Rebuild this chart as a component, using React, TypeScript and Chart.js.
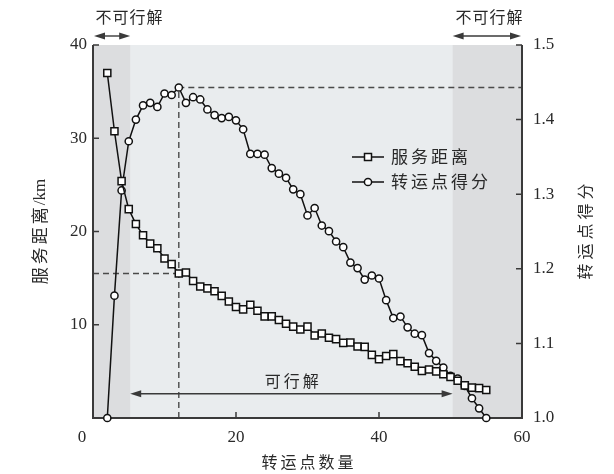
import React, { useEffect, useRef } from "react";
import { Chart, registerables } from "chart.js";

Chart.register(...registerables);

const transferCounts = [
  2, 3, 4, 5, 6, 7, 8, 9, 10, 11, 12, 13, 14, 15, 16, 17, 18, 19, 20, 21, 22, 23, 24, 25, 26, 27, 28,
  29, 30, 31, 32, 33, 34, 35, 36, 37, 38, 39, 40, 41, 42, 43, 44, 45, 46, 47, 48, 49, 50, 51, 52, 53,
  54, 55,
];

const serviceDistance = [
  37.0, 30.75, 25.4, 22.4, 20.8, 19.6, 18.7, 18.2, 17.1, 16.5, 15.5, 15.6, 14.7, 14.1, 13.9, 13.6,
  13.1, 12.5, 11.9, 11.65, 12.15, 11.5, 10.9, 10.9, 10.5, 10.1, 9.8, 9.5, 9.8, 8.85, 9.06, 8.6, 8.46,
  8.06, 8.1, 7.67, 7.63, 6.77, 6.3, 6.65, 6.85, 6.1, 5.87, 5.5, 5.05, 5.2, 5.0, 4.7, 4.4, 4.0, 3.5,
  3.26, 3.2, 3.0,
];

const transferScore = [
  1.0, 1.164, 1.305, 1.371, 1.4, 1.419, 1.4225, 1.417, 1.435, 1.433, 1.443, 1.4225, 1.43, 1.427,
  1.4136, 1.406, 1.402, 1.4036, 1.399, 1.387, 1.354, 1.354, 1.353, 1.335, 1.3275, 1.322, 1.3065, 1.3,
  1.2715, 1.2815, 1.258, 1.2505, 1.2366, 1.229, 1.2083, 1.201, 1.1855, 1.191, 1.187, 1.158, 1.134,
  1.136, 1.1215, 1.113, 1.111, 1.087, 1.0766, 1.0676, 1.0565, 1.0528, 1.043, 1.0265, 1.013, 1.0,
];

const xTickLabels = ["0", "20", "40", "60"];
const leftTickLabels = ["10", "20", "30", "40"];
const rightTickLabels = ["1.0", "1.1", "1.2", "1.3", "1.4", "1.5"];

const seriesNames = ["服务距离", "转运点得分"];
const xTitle = "转运点数量";
const leftTitleCJK = "服务距离";
const leftTitleUnit = "/km";
const rightTitle = "转运点得分";
const infeasibleLabel = "不可行解";
const feasibleLabel = "可行解";

const feasibleStart = 5.2;
const feasibleEnd = 50.3;
const bestCount = 12;

const FONT_NUM = '17px "Liberation Serif", serif';
const FONT_CJK = '16px "Noto Sans CJK SC", sans-serif';
const FONT_CJK17 = '17px "Noto Sans CJK SC", sans-serif';
const INK = "#2a2a2a";
const AXIS = "#3a3a3a";

function drawArrow(ctx: CanvasRenderingContext2D, x1: number, x2: number, y: number, left: boolean, right: boolean) {
  ctx.save();
  ctx.strokeStyle = AXIS;
  ctx.fillStyle = AXIS;
  ctx.lineWidth = 1.4;
  ctx.beginPath();
  ctx.moveTo(x1 + (left ? 6 : 0), y);
  ctx.lineTo(x2 - (right ? 6 : 0), y);
  ctx.stroke();
  const hl = 11;
  const hw = 3.6;
  if (left) {
    ctx.beginPath();
    ctx.moveTo(x1, y);
    ctx.lineTo(x1 + hl, y - hw);
    ctx.lineTo(x1 + hl, y + hw);
    ctx.closePath();
    ctx.fill();
  }
  if (right) {
    ctx.beginPath();
    ctx.moveTo(x2, y);
    ctx.lineTo(x2 - hl, y - hw);
    ctx.lineTo(x2 - hl, y + hw);
    ctx.closePath();
    ctx.fill();
  }
  ctx.restore();
}

function charsWidth(ctx: CanvasRenderingContext2D, text: string, spacing: number) {
  const chars = Array.from(text);
  let w = 0;
  chars.forEach((c, i) => {
    w += ctx.measureText(c).width + (i < chars.length - 1 ? spacing : 0);
  });
  return w;
}

function spacedText(ctx: CanvasRenderingContext2D, text: string, x: number, y: number, spacing: number, align: CanvasTextAlign) {
  const w = charsWidth(ctx, text, spacing);
  let sx = x;
  if (align === "center") sx = x - w / 2;
  else if (align === "right") sx = x - w;
  ctx.textAlign = "left";
  Array.from(text).forEach((c) => {
    ctx.fillText(c, sx, y);
    sx += ctx.measureText(c).width + spacing;
  });
}

const decorPlugin = {
  id: "decor",
  beforeDraw(chart: any) {
    const { ctx, chartArea: a, scales } = chart;
    const x = scales.x;
    ctx.save();
    ctx.fillStyle = "#e9ecee";
    ctx.fillRect(a.left, a.top, a.right - a.left, a.bottom - a.top);
    ctx.fillStyle = "#dcdddf";
    const fs = x.getPixelForValue(feasibleStart);
    const fe = x.getPixelForValue(feasibleEnd);
    ctx.fillRect(a.left, a.top, fs - a.left, a.bottom - a.top);
    ctx.fillRect(fe, a.top, a.right - fe, a.bottom - a.top);
    ctx.restore();
  },
  beforeDatasetsDraw(chart: any) {
    const { ctx, chartArea: a, scales } = chart;
    const x = scales.x;
    const y = scales.y;
    const y1 = scales.y1;
    const idx = transferCounts.indexOf(bestCount);
    const px = x.getPixelForValue(bestCount);
    const pyScore = y1.getPixelForValue(transferScore[idx]);
    const pyDist = y.getPixelForValue(serviceDistance[idx]);
    ctx.save();
    ctx.strokeStyle = "#4a4a4a";
    ctx.lineWidth = 1.4;
    ctx.setLineDash([6, 4]);
    ctx.beginPath();
    ctx.moveTo(px, a.bottom);
    ctx.lineTo(px, pyScore);
    ctx.lineTo(a.right, pyScore);
    ctx.moveTo(a.left, pyDist);
    ctx.lineTo(px, pyDist);
    ctx.stroke();
    ctx.setLineDash([]);

    ctx.strokeStyle = AXIS;
    ctx.lineWidth = 2;
    ctx.beginPath();
    ctx.moveTo(a.left, a.top);
    ctx.lineTo(a.left, a.bottom);
    ctx.lineTo(a.right, a.bottom);
    ctx.lineTo(a.right, a.top);
    ctx.stroke();

    ctx.lineWidth = 1.5;
    ctx.beginPath();
    const tl = 6;
    x.ticks.forEach((t: any) => {
      const p = x.getPixelForValue(t.value);
      ctx.moveTo(p, a.bottom);
      ctx.lineTo(p, a.bottom - tl);
    });
    y.ticks.forEach((t: any) => {
      const p = y.getPixelForValue(t.value);
      ctx.moveTo(a.left, p);
      ctx.lineTo(a.left + tl, p);
    });
    y1.ticks.forEach((t: any) => {
      const p = y1.getPixelForValue(t.value);
      ctx.moveTo(a.right, p);
      ctx.lineTo(a.right - tl, p);
    });
    ctx.stroke();
    ctx.restore();
  },
  afterDraw(chart: any) {
    const { ctx, chartArea: a, scales } = chart;
    const x = scales.x;
    const y = scales.y;
    const y1 = scales.y1;
    ctx.save();
    ctx.fillStyle = INK;
    ctx.textBaseline = "middle";

    ctx.font = FONT_NUM;
    x.ticks.forEach((t: any, i: number) => {
      const p = x.getPixelForValue(t.value);
      const label = xTickLabels[i] ?? String(t.value);
      ctx.textAlign = "center";
      ctx.fillText(label, t.value === 0 ? p - 11 : p, a.bottom + 20);
    });
    y.ticks.forEach((t: any) => {
      if (t.value === 0) return;
      const p = y.getPixelForValue(t.value);
      const label = leftTickLabels[Math.round(t.value / 10) - 1];
      ctx.textAlign = "right";
      ctx.fillText(label, a.left - 6, p);
    });
    y1.ticks.forEach((t: any) => {
      const p = y1.getPixelForValue(t.value);
      const label = rightTickLabels[Math.round((t.value - 1) * 10)];
      ctx.textAlign = "left";
      ctx.fillText(label, a.right + 11, p);
    });

    ctx.font = FONT_CJK;
    spacedText(ctx, xTitle, (a.left + a.right) / 2, 462, 3, "center");

    ctx.save();
    ctx.translate(40, (a.top + a.bottom) / 2);
    ctx.rotate(-Math.PI / 2);
    ctx.font = FONT_CJK17;
    const wC = charsWidth(ctx, leftTitleCJK, 3);
    ctx.font = FONT_NUM;
    const wU = ctx.measureText(leftTitleUnit).width;
    const total = wC + 2 + wU;
    ctx.font = FONT_CJK17;
    spacedText(ctx, leftTitleCJK, -total / 2, 0, 3, "left");
    ctx.font = FONT_NUM;
    ctx.textAlign = "left";
    ctx.fillText(leftTitleUnit, -total / 2 + wC + 2, 1);
    ctx.restore();

    ctx.save();
    ctx.translate(585, (a.top + a.bottom) / 2);
    ctx.rotate(-Math.PI / 2);
    ctx.font = FONT_CJK;
    spacedText(ctx, rightTitle, 0, 0, 4, "center");
    ctx.restore();

    const fs = x.getPixelForValue(feasibleStart);
    const fe = x.getPixelForValue(feasibleEnd);
    ctx.font = FONT_CJK;
    spacedText(ctx, infeasibleLabel, 129, 17, 1, "center");
    spacedText(ctx, infeasibleLabel, 489, 17, 1, "center");
    drawArrow(ctx, a.left + 1, fs, 36, true, true);
    drawArrow(ctx, fe, a.right - 1, 36, true, true);

    spacedText(ctx, feasibleLabel, x.getPixelForValue(27.8), y.getPixelForValue(4.0), 3, "center");
    drawArrow(ctx, fs, fe, y.getPixelForValue(2.6), true, true);

    const legendRows = [
      { name: seriesNames[0], y: 157, style: "rect" },
      { name: seriesNames[1], y: 182, style: "circle" },
    ];
    legendRows.forEach((r) => {
      ctx.strokeStyle = "#111";
      ctx.lineWidth = 1.5;
      ctx.beginPath();
      ctx.moveTo(352, r.y);
      ctx.lineTo(384, r.y);
      ctx.stroke();
      ctx.fillStyle = "#fff";
      ctx.beginPath();
      if (r.style === "rect") ctx.rect(364.5, r.y - 3.5, 7, 7);
      else ctx.arc(368, r.y, 3.6, 0, Math.PI * 2);
      ctx.fill();
      ctx.stroke();
      ctx.fillStyle = INK;
      ctx.font = FONT_CJK17;
      spacedText(ctx, r.name, 391, r.y, 3, "left");
    });
    ctx.restore();
  },
};

export default function App() {
  const canvasRef = useRef<HTMLCanvasElement | null>(null);

  useEffect(() => {
    if (!canvasRef.current) return;
    const chart = new Chart(canvasRef.current, {
      type: "line",
      data: {
        datasets: [
          {
            label: seriesNames[0],
            data: transferCounts.map((c, i) => ({ x: c, y: serviceDistance[i] })),
            yAxisID: "y",
            borderColor: "#111",
            borderWidth: 1.5,
            backgroundColor: "#fff",
            pointStyle: "rect",
            pointRadius: 5,
            pointBorderWidth: 1.5,
            pointBorderColor: "#111",
            pointBackgroundColor: "#fff",
            tension: 0,
            clip: false,
          },
          {
            label: seriesNames[1],
            data: transferCounts.map((c, i) => ({ x: c, y: transferScore[i] })),
            yAxisID: "y1",
            borderColor: "#111",
            borderWidth: 1.5,
            backgroundColor: "#fff",
            pointStyle: "circle",
            pointRadius: 3.6,
            pointBorderWidth: 1.5,
            pointBorderColor: "#111",
            pointBackgroundColor: "#fff",
            tension: 0,
            clip: false,
          },
        ],
      },
      options: {
        responsive: false,
        animation: false,
        layout: { padding: { top: 45, left: 0, right: 0, bottom: 0 } },
        plugins: { legend: { display: false }, tooltip: { enabled: false } },
        scales: {
          x: {
            type: "linear",
            min: 0,
            max: 60,
            ticks: { display: false, stepSize: 20 },
            grid: { display: false },
            border: { display: false },
            afterFit: (s: any) => {
              s.height = 56;
            },
          },
          y: {
            type: "linear",
            position: "left",
            min: 0,
            max: 40,
            ticks: { display: false, stepSize: 10 },
            grid: { display: false },
            border: { display: false },
            afterFit: (s: any) => {
              s.width = 93;
            },
          },
          y1: {
            type: "linear",
            position: "right",
            min: 1.0,
            max: 1.5,
            ticks: { display: false, stepSize: 0.1 },
            grid: { display: false },
            border: { display: false },
            afterFit: (s: any) => {
              s.width = 92;
            },
          },
        },
      },
      plugins: [decorPlugin],
    });
    return () => chart.destroy();
  }, []);

  return (
    <div style={{ position: "fixed", left: 0, top: 0, width: 614, height: 474, background: "#fff" }}>
      <canvas ref={canvasRef} width={614} height={474} style={{ width: 614, height: 474 }} />
    </div>
  );
}
